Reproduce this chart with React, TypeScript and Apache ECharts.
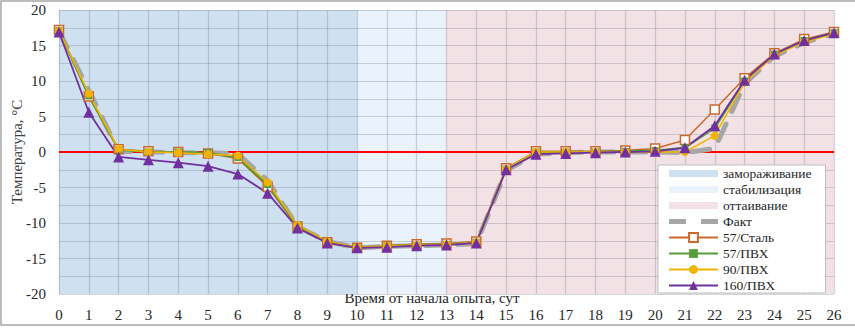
import React, { useEffect, useRef } from "react";
import * as echarts from "echarts";

const days = [0, 1, 2, 3, 4, 5, 6, 7, 8, 9, 10, 11, 12, 13, 14, 15, 16, 17, 18, 19, 20, 21, 22, 23, 24, 25, 26];

const fact = [17.0, 8.7, 0.1, 0.0, -0.1, -0.1, -0.3, -4.0, -10.5, -12.6, -13.5, -13.3, -13.2, -13.1, -12.9, -2.6, -0.3, -0.1, 0.0, 0.0, 0.0, -0.1, 0.5, 9.6, 13.5, 15.4, 16.7];
const steel57 = [17.2, 7.8, 0.4, 0.1, 0.0, -0.2, -0.9, -4.9, -10.5, -12.7, -13.5, -13.2, -13.0, -12.9, -12.6, -2.3, 0.1, 0.1, 0.1, 0.2, 0.5, 1.7, 6.0, 10.4, 13.9, 15.9, 16.9];
const pvc57 = [17.1, 7.9, 0.3, 0.0, 0.0, -0.1, -0.8, -4.6, -10.4, -12.7, -13.5, -13.2, -13.1, -13.0, -12.7, -2.4, 0.0, 0.0, 0.0, 0.1, 0.2, 0.6, 3.4, 10.0, 13.8, 15.7, 16.8];
const pvc90 = [17.1, 8.2, 0.4, 0.0, -0.1, -0.3, -0.5, -4.3, -10.3, -12.6, -13.4, -13.2, -13.1, -13.0, -12.7, -2.4, 0.0, 0.0, 0.0, 0.0, 0.0, 0.0, 2.3, 9.8, 13.6, 15.5, 16.6];
const pvc160 = [16.9, 5.6, -0.7, -1.1, -1.5, -2.0, -3.1, -5.8, -10.7, -12.8, -13.5, -13.4, -13.2, -13.1, -12.8, -2.5, -0.3, -0.2, -0.1, 0.0, 0.1, 0.6, 3.7, 10.1, 13.8, 15.7, 16.8];

const phases = ["замораживание", "стабилизация", "оттаивание"];
const phaseStart = [0, 10, 13];
const phaseEnd = [10, 13, 26];
const phaseColors = ["#cfe0f1", "#eaf2fb", "#f2e2e6"];

const seriesNames = ["Факт", "57/Сталь", "57/ПВХ", "90/ПВХ", "160/ПВХ"];
const yTicks = { min: -20, max: 20, step: 2.5, labelStep: 5 };

const FONT = "'Liberation Serif', 'Times New Roman', serif";

function pairs(vals: number[]) {
  return days.map((d, i) => [d, vals[i]]);
}

export default function App() {
  const ref = useRef<HTMLDivElement>(null);
  useEffect(() => {
    if (!ref.current) return;
    const chart = echarts.init(ref.current, undefined, { renderer: "svg" });
    const phaseSeries = phases.map((name, i) => ({
      name,
      type: "line",
      data: [],
      silent: true,
      markArea: {
        silent: true,
        z: 1,
        itemStyle: { color: phaseColors[i] },
        data: [[{ xAxis: phaseStart[i] }, { xAxis: phaseEnd[i] }]],
      },
    }));
    const steelColor = "#c96a2c";
    const greenColor = "#559e3a";
    const yellowColor = "#f0b400";
    const purpleColor = "#7030a0";
    const factColor = "#a6a6a6";
    const option = {
      animation: false,
      backgroundColor: "#ffffff",
      grid: { left: 59, right: 21, top: 10, bottom: 36, containLabel: false, outerBoundsMode: "none" },
      xAxis: {
        type: "value",
        min: 0,
        max: 26,
        interval: 1,
        z: 1.5,
        axisLine: { show: false },
        axisTick: { show: false },
        axisLabel: { fontFamily: FONT, fontSize: 15, color: "#262626", margin: 13 },
        splitLine: { show: true, lineStyle: { color: "rgba(110,120,130,0.3)", width: 1.2 } },
      },
      yAxis: {
        type: "value",
        min: yTicks.min,
        max: yTicks.max,
        interval: yTicks.step,
        z: 1.5,
        name: "Температура, °С",
        nameLocation: "middle",
        nameGap: 35,
        nameMoveOverlap: false,
        nameTextStyle: { fontFamily: FONT, fontSize: 15, color: "#404040" },
        axisLine: { show: false },
        axisTick: { show: false },
        axisLabel: {
          fontFamily: FONT,
          fontSize: 15,
          color: "#262626",
          margin: 13,
          formatter: (v: number) => (v % yTicks.labelStep === 0 ? String(v) : ""),
        },
        splitLine: { show: true, lineStyle: { color: "rgba(110,120,130,0.3)", width: 1.2 } },
      },
      legend: {
        orient: "vertical",
        left: 658,
        top: 165,
        padding: [1, 14, 0, 10],
        backgroundColor: "#ffffff",
        borderColor: "#bfbfbf",
        borderWidth: 1,
        borderRadius: 0,
        itemWidth: 49,
        itemHeight: 11,
        itemGap: 1,
        textStyle: { fontFamily: FONT, fontSize: 13.5, color: "#262626", lineHeight: 15 },
        data: [
          ...phases.map((name, i) => ({
            name,
            icon: "path://M0,0h48v7h-48z",
            itemStyle: { color: phaseColors[i], borderWidth: 0 },
          })),
          {
            name: seriesNames[0],
            icon: "path://M0,0h17v5h-17z M32,0h17v5h-17z",
            itemStyle: { color: factColor, borderWidth: 0 },
          },
          ...seriesNames.slice(1),
        ],
      },
      graphic: [
        {
          type: "text",
          x: 432,
          y: 298,
          style: {
            text: "Время от начала опыта, сут",
            fontFamily: FONT,
            fontSize: 15,
            fill: "#262626",
            textAlign: "center",
            textVerticalAlign: "middle",
          },
        },
        {
          type: "rect",
          shape: { x: 1, y: 1, width: 870, height: 324 },
          style: { fill: "none", stroke: "#a6a6a6", lineWidth: 1.5 },
          silent: true,
        },
      ],
      series: [
        ...phaseSeries,
        {
          name: seriesNames[0],
          type: "line",
          data: pairs(fact),
          symbol: "none",
          color: factColor,
          lineStyle: { color: factColor, width: 5, type: [18, 14], cap: "round" },
          markLine: {
            silent: true,
            symbol: "none",
            z: 1.8,
            label: { show: false },
            lineStyle: { color: "#ff0000", width: 2, type: "solid" },
            data: [{ yAxis: 0 }],
          },
        },
        {
          name: seriesNames[1],
          type: "line",
          data: pairs(steel57),
          symbol: "rect",
          symbolSize: 9,
          color: steelColor,
          itemStyle: { color: "#ffffff", borderColor: steelColor, borderWidth: 1.5 },
          lineStyle: { color: steelColor, width: 1.5 },
        },
        {
          name: seriesNames[2],
          type: "line",
          data: pairs(pvc57),
          symbol: "rect",
          symbolSize: 7,
          color: greenColor,
          itemStyle: { color: greenColor },
          lineStyle: { color: greenColor, width: 2 },
        },
        {
          name: seriesNames[3],
          type: "line",
          data: pairs(pvc90),
          symbol: "circle",
          symbolSize: 8,
          color: yellowColor,
          itemStyle: { color: yellowColor },
          lineStyle: { color: yellowColor, width: 1.5 },
        },
        {
          name: seriesNames[4],
          type: "line",
          data: pairs(pvc160),
          symbol: "triangle",
          symbolSize: 11,
          color: purpleColor,
          itemStyle: { color: purpleColor },
          lineStyle: { color: purpleColor, width: 1.8 },
        },
      ],
    };
    chart.setOption(option as any);
    return () => chart.dispose();
  }, []);
  return (
    <div
      ref={ref}
      style={{ position: "absolute", left: 0, top: 0, width: 855, height: 330 }}
    />
  );
}
